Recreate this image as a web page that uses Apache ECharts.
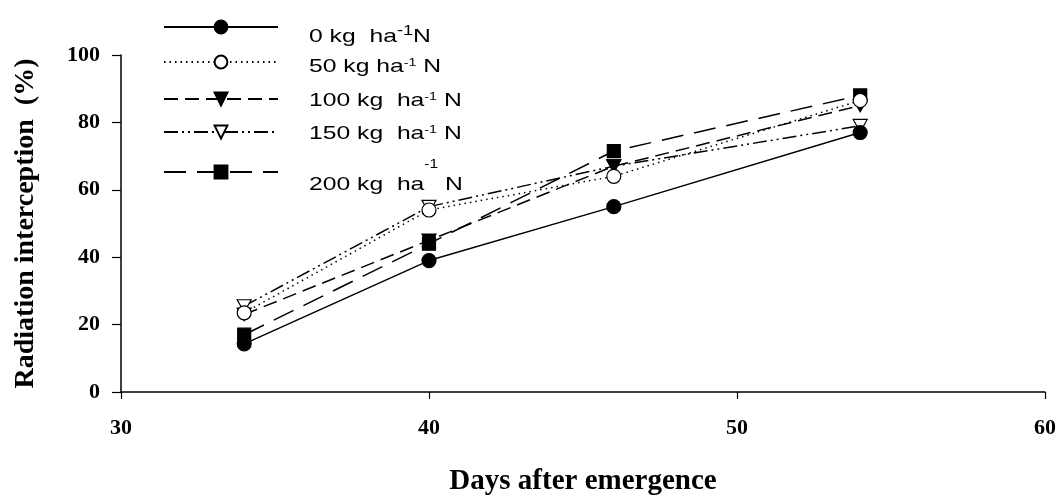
<!DOCTYPE html>
<html>
<head>
<meta charset="utf-8">
<script src="https://cdn.jsdelivr.net/npm/echarts@6/dist/echarts.min.js"></script>
<style>
  html, body { margin: 0; padding: 0; background: #fff; }
  #chart { width: 1059px; height: 501px; }
</style>
</head>
<body>
<div id="chart"></div>
<script>
// Days after emergence at which interception was measured
const days = [34, 40, 46, 54];

// Radiation interception (%) per nitrogen rate
const n0   = [14.3, 39, 55, 77];
const n50  = [23.5, 54, 64, 86.5];
const n100 = [23, 45, 67, 85];
const n150 = [25.5, 55, 67, 79];
const n200 = [17, 44, 71.5, 88];

const seriesNames = ['0 kg ha-1 N', '50 kg ha-1 N', '100 kg ha-1 N', '150 kg ha-1 N', '200 kg ha-1 N'];

// Legend texts as rich text so "-1" sits as a superscript
const legendTexts = [
  '{t|0 kg  ha}{b|-1}{t|N}',
  '{t|50 kg ha}{s|-1}{t| N}',
  '{t|100 kg  ha}{s|-1}{t| N}',
  '{t|150 kg  ha}{s|-1}{t| N}',
  '{t|200 kg  ha}{h|-1}{t| N}'
];

const xTicks = { min: 30, max: 60, interval: 10 };
const yTicks = { min: 0, max: 100, interval: 20 };

const downTri = 'path://M0,0 L10,0 L5,9 Z';

const styles = [
  { symbol: 'circle', size: 14, fill: '#000', dash: 'solid' },
  { symbol: 'circle', size: 14, fill: '#fff', dash: [1.5, 4] },
  { symbol: downTri, size: 14, fill: '#000', dash: [14, 7] },
  { symbol: downTri, size: 14, fill: '#fff', dash: [14, 4, 2, 4, 2, 4] },
  { symbol: 'rect', size: 13, fill: '#000', dash: [22, 11] }
];
const dataSets = [n0, n50, n100, n150, n200];
const legendRows = [27, 62, 99, 132, 172];
const legendTextRows = [35, 68, 102, 135, 180];

const series = dataSets.map((vals, i) => ({
  name: seriesNames[i],
  type: 'line',
  data: days.map((d, k) => [d, vals[k]]),
  symbol: styles[i].symbol,
  symbolSize: styles[i].size,
  symbolKeepAspect: true,
  showAllSymbol: true,
  lineStyle: { color: '#000', width: 1.5, type: styles[i].dash },
  itemStyle: { color: styles[i].fill, borderColor: '#000', borderWidth: 1.2, opacity: 1 },
  emphasis: { disabled: true },
  animation: false,
  z: 10 - i
}));

const sans = 'Liberation Sans, Arial, sans-serif';
const serif = 'Liberation Serif, Times New Roman, serif';
const richStyles = {
  t: { fontSize: 19, fontFamily: sans, color: '#000' },
  b: { fontSize: 14, fontFamily: sans, color: '#000', padding: [0, 0, 12, 0] },
  s: { fontSize: 11, fontFamily: sans, color: '#000', padding: [0, 0, 9, 0] },
  h: { fontSize: 12, fontFamily: sans, color: '#000', padding: [0, 0, 40, 0] }
};

// Legend keys (line + marker); the wide labels are placed beside them
const legends = seriesNames.map((name, i) => ({
  data: [name],
  left: 158,
  top: legendRows[i] - 13,
  itemWidth: 114,
  itemHeight: 16,
  selectedMode: false,
  formatter: () => '',
  textStyle: { fontSize: 1 }
}));

const labelGraphics = legendTexts.map((txt, i) => ({
  type: 'text',
  left: 309,
  top: legendTextRows[i] - (i === 4 ? 21 : 11),
  scaleX: 1.3,
  originX: 0,
  style: { text: txt, rich: richStyles, fill: '#000', verticalAlign: 'top' },
  silent: true
}));

const chart = echarts.init(document.getElementById('chart'), null, { renderer: 'canvas' });
chart.setOption({
  backgroundColor: '#fff',
  animation: false,
  grid: { left: 121, right: 9, top: 55, bottom: 104 },
  legend: legends,
  graphic: labelGraphics,
  xAxis: {
    type: 'value',
    min: xTicks.min, max: xTicks.max, interval: xTicks.interval,
    name: 'Days after emergence',
    nameLocation: 'middle',
    nameGap: 75,
    nameTextStyle: { fontFamily: serif, fontWeight: 'bold', fontSize: 29, color: '#000' },
    axisLine: { lineStyle: { color: '#000', width: 1.5 } },
    axisTick: { show: true, length: 7, lineStyle: { color: '#000', width: 1.2 } },
    axisLabel: { margin: 25, fontFamily: serif, fontWeight: 'bold', fontSize: 22, color: '#000' },
    splitLine: { show: false }
  },
  yAxis: {
    type: 'value',
    min: yTicks.min, max: yTicks.max, interval: yTicks.interval,
    name: 'Radiation interception  (%)',
    nameLocation: 'middle',
    nameGap: 81,
    nameTextStyle: { fontFamily: serif, fontWeight: 'bold', fontSize: 28, color: '#000' },
    axisLine: { show: true, lineStyle: { color: '#000', width: 1.5 } },
    axisTick: { show: true, length: 9, lineStyle: { color: '#000', width: 1.2 } },
    axisLabel: { margin: 21, fontFamily: serif, fontWeight: 'bold', fontSize: 22, color: '#000' },
    splitLine: { show: false }
  },
  series: series
});
</script>
</body>
</html>
